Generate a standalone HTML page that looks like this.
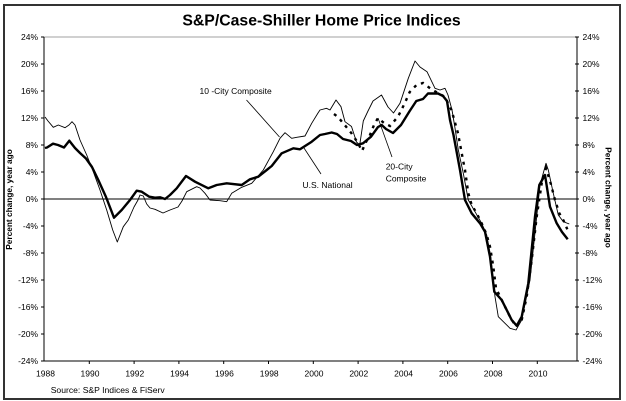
<!DOCTYPE html>
<html><head><meta charset="utf-8"><style>
html,body{margin:0;padding:0;background:#fff;}
svg{display:block;}
text{font-family:"Liberation Sans",Arial,sans-serif;fill:#000;}
</style></head><body>
<svg width="626" height="401" viewBox="0 0 626 401" xmlns="http://www.w3.org/2000/svg">
<rect x="0" y="0" width="626" height="401" fill="#fff"/>
<rect x="4" y="5" width="616" height="394" fill="none" stroke="#333" stroke-width="2"/>
<text x="321.5" y="25.5" font-size="15.8" font-weight="bold" text-anchor="middle">S&amp;P/Case-Shiller Home Price Indices</text>
<!-- top gridline -->
<line x1="44" y1="37" x2="577" y2="37" stroke="#b4b4b4" stroke-width="1.3"/>
<!-- axes -->
<line x1="44" y1="37" x2="44" y2="361.5" stroke="#000" stroke-width="1"/>
<line x1="577" y1="37" x2="577" y2="361.5" stroke="#000" stroke-width="1"/>
<line x1="44" y1="361" x2="577" y2="361" stroke="#000" stroke-width="1"/>
<line x1="44" y1="199" x2="577" y2="199" stroke="#000" stroke-width="1"/>
<g stroke="#000" stroke-width="1">
<line x1="41" y1="37" x2="44" y2="37"/><line x1="41" y1="64" x2="44" y2="64"/><line x1="41" y1="91" x2="44" y2="91"/><line x1="41" y1="118" x2="44" y2="118"/><line x1="41" y1="145" x2="44" y2="145"/><line x1="41" y1="172" x2="44" y2="172"/><line x1="41" y1="199" x2="44" y2="199"/><line x1="41" y1="226" x2="44" y2="226"/><line x1="41" y1="253" x2="44" y2="253"/><line x1="41" y1="280" x2="44" y2="280"/><line x1="41" y1="307" x2="44" y2="307"/><line x1="41" y1="334" x2="44" y2="334"/><line x1="41" y1="361" x2="44" y2="361"/>
<line x1="575" y1="37" x2="579" y2="37"/><line x1="575" y1="64" x2="579" y2="64"/><line x1="575" y1="91" x2="579" y2="91"/><line x1="575" y1="118" x2="579" y2="118"/><line x1="575" y1="145" x2="579" y2="145"/><line x1="575" y1="172" x2="579" y2="172"/><line x1="575" y1="199" x2="579" y2="199"/><line x1="575" y1="226" x2="579" y2="226"/><line x1="575" y1="253" x2="579" y2="253"/><line x1="575" y1="280" x2="579" y2="280"/><line x1="575" y1="307" x2="579" y2="307"/><line x1="575" y1="334" x2="579" y2="334"/><line x1="575" y1="361" x2="579" y2="361"/>
<line x1="89.3" y1="361" x2="89.3" y2="364"/><line x1="134.1" y1="361" x2="134.1" y2="364"/><line x1="178.9" y1="361" x2="178.9" y2="364"/><line x1="223.7" y1="361" x2="223.7" y2="364"/><line x1="268.5" y1="361" x2="268.5" y2="364"/><line x1="313.3" y1="361" x2="313.3" y2="364"/><line x1="358.1" y1="361" x2="358.1" y2="364"/><line x1="402.9" y1="361" x2="402.9" y2="364"/><line x1="447.7" y1="361" x2="447.7" y2="364"/><line x1="492.5" y1="361" x2="492.5" y2="364"/><line x1="537.3" y1="361" x2="537.3" y2="364"/>
</g>
<g font-size="8.5" text-anchor="end">
<text x="38" y="40">24%</text><text x="38" y="67">20%</text><text x="38" y="94">16%</text><text x="38" y="121">12%</text><text x="38" y="148">8%</text><text x="38" y="175">4%</text><text x="38" y="202">0%</text><text x="38" y="229">-4%</text><text x="38" y="256">-8%</text><text x="38" y="283">-12%</text><text x="38" y="310">-16%</text><text x="38" y="337">-20%</text><text x="38" y="364">-24%</text>
</g>
<g font-size="8.5">
<text x="582.5" y="40">24%</text><text x="582.5" y="67">20%</text><text x="582.5" y="94">16%</text><text x="582.5" y="121">12%</text><text x="582.5" y="148">8%</text><text x="582.5" y="175">4%</text><text x="582.5" y="202">0%</text><text x="582.5" y="229">-4%</text><text x="582.5" y="256">-8%</text><text x="582.5" y="283">-12%</text><text x="582.5" y="310">-16%</text><text x="582.5" y="337">-20%</text><text x="582.5" y="364">-24%</text>
</g>
<g font-size="8.5" text-anchor="middle">
<text x="45.5" y="376.5">1988</text><text x="90" y="376.5">1990</text><text x="134.8" y="376.5">1992</text><text x="179.6" y="376.5">1994</text><text x="224.4" y="376.5">1996</text><text x="269.2" y="376.5">1998</text><text x="314" y="376.5">2000</text><text x="358.8" y="376.5">2002</text><text x="403.6" y="376.5">2004</text><text x="448.4" y="376.5">2006</text><text x="493.2" y="376.5">2008</text><text x="538" y="376.5">2010</text>
</g>
<text transform="translate(11.8,199.5) rotate(-90)" font-size="8.3" font-weight="bold" text-anchor="middle">Percent change, year ago</text>
<text transform="translate(605.5,197.5) rotate(90)" font-size="8.3" font-weight="bold" text-anchor="middle">Percent change, year ago</text>
<text x="50.7" y="393" font-size="8.6">Source: S&amp;P Indices &amp; FiServ</text>

<!-- 10-City thin -->
<polyline fill="none" stroke="#000" stroke-width="0.9" stroke-linejoin="round" points="45,117 48,121 53.3,127.3 58.3,125 65,127.7 69,125 72,121.7 75,125 80,140 86.7,155 93.3,171.7 100,190 106.7,210 112.7,230 117.3,242 123.3,226.7 128.3,220 134,207 138,200 140,195 143.3,196 146.7,204 150,208 155,209.3 163,213 170,210 178,207 182,201 186.7,191.7 196.7,186.7 200,188 205,193.3 210,200 220,200.7 226.7,201.7 231.7,193.3 241.7,187.3 251.7,183.3 263.3,170 273.3,151.7 280,138.3 285,132.7 291.7,138.3 296.7,137.3 305,136 311.7,123.3 318,113 320,110 326.5,108.3 330,110 336,100 341,106.7 345,121.7 351.5,126.5 356.5,142 359.7,145 363.3,121 368,111 373,101 381.5,95 388,107 393.5,113 400,103.3 408.3,78.3 415,61 420,67 427,71.7 435,88.3 440,90 445,88.3 448,95 452,110 455,128 458.3,150 463.3,173.3 468.3,200 475,211.7 481.7,223.3 486.7,235 490.7,256.7 495,296.7 498.3,316.7 505,323.3 510,328.3 516,330 521.7,320 530,280 536.7,216.7 540,185 546,163.3 548.3,170 553.3,193.3 558.3,215 563.3,221.7 569.3,224"/>
<!-- 20-City dashed -->
<polyline fill="none" stroke="#000" stroke-width="2.4" stroke-dasharray="3 5" points="334,114 338,117 344.7,125 351.5,133.3 358,143 362,151 366,142 370,135 374,125 378,118 384,123 390,126 398,116.7 404.7,103.3 409.7,92 416.5,85 423,83 431,89 438,93 444.7,96.7 451.5,110 458,133.3 463,160 465,170 468.3,193.3 471.7,205 476.7,213.3 483.3,226.7 486.7,235 490,246.7 493.3,266.7 496,288.3 503.3,303.3 510,316.7 516,326.7 521.7,320 526.7,296.7 531.7,260 536.7,216.7 541.7,183.3 546,168.3 550.7,183.3 555,200 559.3,213.3 563.3,220 567.3,229.3"/>
<!-- US National thick -->
<polyline fill="none" stroke="#000" stroke-width="2.4" stroke-linejoin="round" points="45,148 47,147.5 53,143.7 58,145 64,147.5 69.3,140.7 75,148 80,153 86,158.5 92,167 98.3,180 106,197 114,217.7 121.7,210 130,200 136.7,190.7 141.7,191.7 149.3,196.7 155,197.7 160,197.3 165,199 170,195 176.7,188.3 186,176 195,181.7 208.3,188.3 216.7,185 226.7,183.3 241.7,185 250,179.3 258.3,176.7 266.7,170 271.7,166 281.7,153.3 293.3,148.3 300,149.3 311.7,141.7 320,135 325,134 331.7,132.5 337,134 343,139 351,141 357,145 363,143.3 371,136.7 378,127 381.7,125 386,129 393,133 401,125 409.7,111 416.3,101 423,99 428,93.5 438,93.5 443,96 447,101 450,120 453.5,135 456.3,150 460,170 465,200 471.7,213.3 480,223.3 485,231.7 490,256.7 494.3,291.7 501.7,300 506.7,310 511.7,320 516.7,325.7 521.7,316.7 528.3,283.3 535,216.7 539.3,185 545,175 550,206.7 556.7,223.3 562,232 567.7,239.3"/>

<!-- annotations -->
<g stroke="#000" stroke-width="0.8">
<line x1="246.5" y1="100" x2="279.5" y2="137"/>
<line x1="304" y1="148" x2="321" y2="174"/>
<line x1="378" y1="118" x2="392" y2="157"/>
</g>
<g font-size="8.5">
<text x="199.5" y="94">10 -City Composite</text>
<text x="302.5" y="188">U.S. National</text>
<text x="385.7" y="169.7">20-City</text>
<text x="385.7" y="181.3">Composite</text>
</g>
</svg>
</body></html>
